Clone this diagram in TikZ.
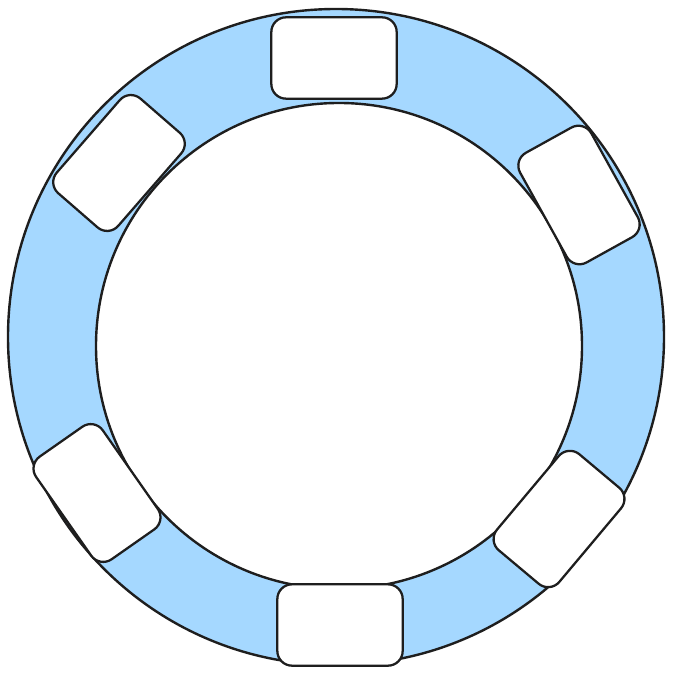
\documentclass[tikz,border=0pt]{standalone}
\usepackage{tikz}
\usetikzlibrary{positioning}
\definecolor{ringblue}{HTML}{A5D8FF}
\definecolor{inkgray}{HTML}{1E1E1E}

\tikzset{
  ringline/.style={draw=inkgray, line width=1.8pt},
  slotbox/.style={draw=inkgray, fill=white, line width=1.7pt, rounded corners=11pt,
                  minimum width=94pt, minimum height=61pt, inner sep=0pt},
}

\begin{document}
\begin{tikzpicture}[x=0.75pt, y=0.75pt]

\useasboundingbox (0,0) rectangle (676,678);

% Ring
\coordinate (outerc) at (336,341);
\coordinate (innerc) at (339,332);
\fill[ringblue] (outerc) circle (328);
\draw[ringline] (outerc) circle (328);
\fill[white] (innerc) circle (243);
\draw[ringline] (innerc) circle (243);

% Slots round the ring
\node[slotbox] (slottop) at (334,620) {};
\node[slotbox, rotate=49] (slotul) at (119,515) {};
\node[slotbox, rotate=-55] (slotll) at (97,185) {};
\node[slotbox] (slotbot) at (340,53) {};
\node[slotbox, rotate=50] (slotlr) at (559,159) {};
\node[slotbox, rotate=-61] (slotur) at (579,483) {};

\end{tikzpicture}
\end{document}
